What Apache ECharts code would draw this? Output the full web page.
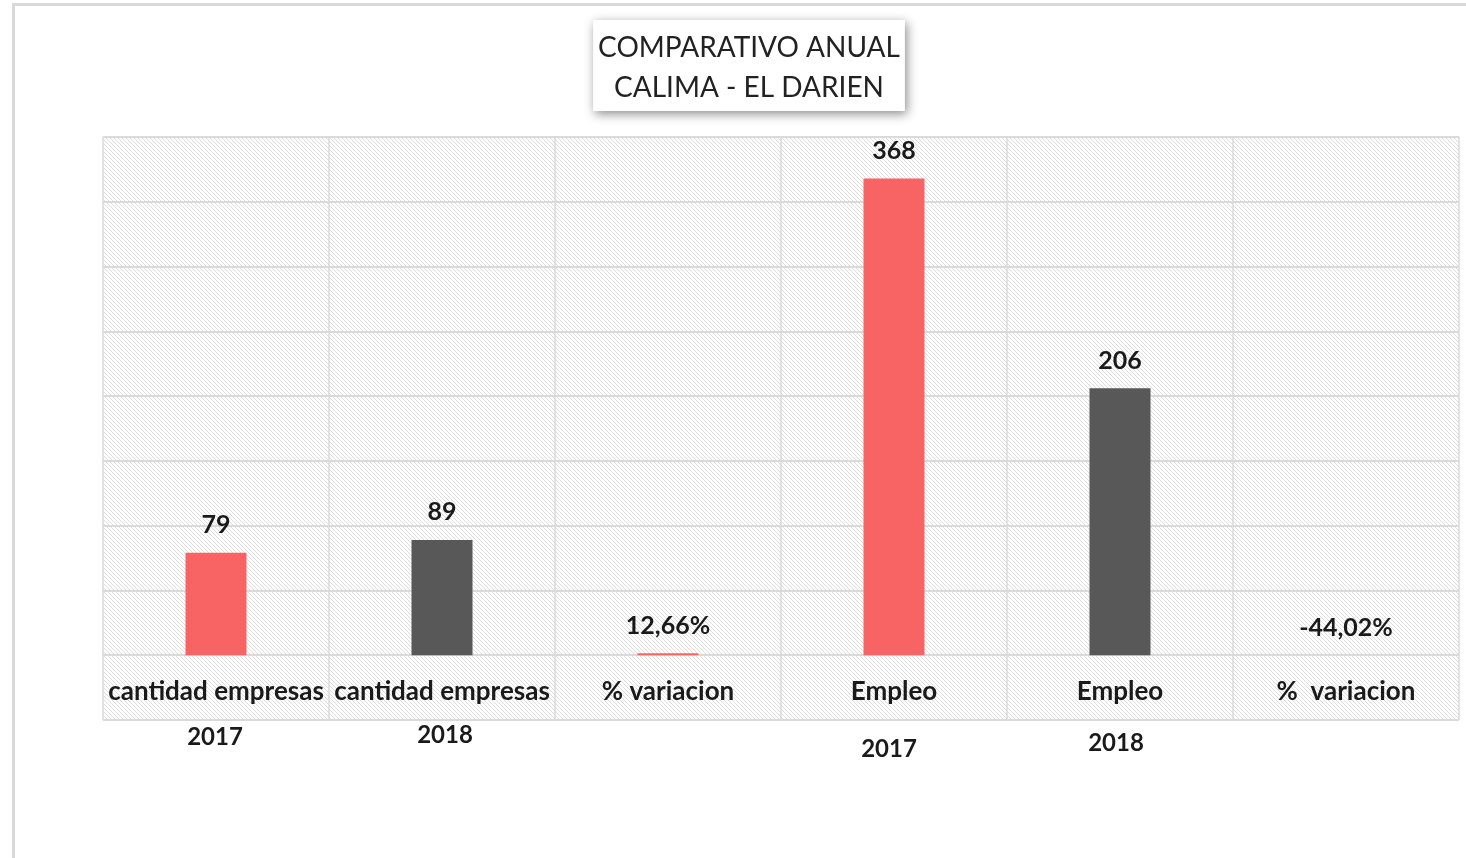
<!DOCTYPE html>
<html>
<head>
<meta charset="utf-8">
<script src="https://cdn.jsdelivr.net/npm/echarts@6/dist/echarts.min.js"></script>
<style>
  html, body { margin: 0; padding: 0; background: #ffffff; }
  .frame {
    position: absolute;
    left: 12px;
    top: 3px;
    width: 1460px;
    height: 860px;
    border-left: 3px solid #d9d9d9;
    border-top: 3px solid #d9d9d9;
  }
  #chart { position: absolute; left: 0; top: 0; width: 1466px; height: 858px; }
</style>
</head>
<body>
<div class="frame"></div>
<div id="chart"></div>
<script>
// datos del grafico
var categorias = ['cantidad empresas', 'cantidad empresas', '% variacion', 'Empleo', 'Empleo', '%  variacion'];
var anios = ['2017', '2018', '', '2017', '2018', ''];
var valores = [79, 89, 0.1266, 368, 206, -0.4402];
var etiquetas = ['79', '89', '12,66%', '368', '206', '-44,02%'];
var tipoColor = ['rojo', 'gris', 'rojo', 'rojo', 'gris', 'ninguno'];

// fondo rayado del area de trazado
var c = document.createElement('canvas');
c.width = 4;
c.height = 4;
var ctx = c.getContext('2d');
ctx.fillStyle = '#ffffff';
ctx.fillRect(0, 0, 4, 4);
ctx.fillStyle = '#dddddd';
for (var i = 0; i < 4; i++) ctx.fillRect(i, i, 1, 1);
var rayado = { image: c, repeat: 'repeat' };

var colores = { rojo: '#f86464', gris: '#585858', ninguno: 'rgba(0,0,0,0)' };

// desplazamiento de los textos de año (cuadros de texto sueltos en el original)
var anioPadding = [[3, 2, 0, 0], [1, 0, 0, 6], [0, 0, 0, 0], [15, 10, 0, 0], [9, 8, 0, 0], [0, 0, 0, 0]];

var fuente = 'Lato, "Open Sans", sans-serif';
var richAnios = {};
anioPadding.forEach(function (p, i) {
  richAnios['a' + i] = { padding: p, fontSize: 24, fontWeight: 'bold', color: '#1a1a1a', fontFamily: fuente };
});

var chart = echarts.init(document.getElementById('chart'));
chart.setOption({
  animation: false,
  title: {
    text: 'COMPARATIVO ANUAL\nCALIMA - EL DARIEN',
    left: 744,
    top: 20,
    textAlign: 'center',
    padding: [8, 5, 3, 5],
    backgroundColor: '#ffffff',
    shadowBlur: 10,
    shadowColor: 'rgba(0,0,0,0.45)',
    shadowOffsetX: 2,
    shadowOffsetY: 3,
    textStyle: {
      fontFamily: fuente,
      fontWeight: 'normal',
      fontSize: 28,
      lineHeight: 40,
      color: '#222222'
    }
  },
  grid: {
    left: 103,
    right: 7,
    top: 137,
    bottom: 138,
    show: true,
    backgroundColor: rayado,
    borderWidth: 0
  },
  xAxis: [
    {
      type: 'category',
      data: categorias,
      position: 'bottom',
      axisLine: { show: false, onZero: false },
      axisTick: { show: false },
      splitLine: { show: true, lineStyle: { color: '#dadada', width: 1.5 } },
      axisLabel: {
        interval: 0,
        margin: -41,
        fontFamily: fuente,
        fontSize: 26,
        fontWeight: 'bold',
        color: '#1a1a1a'
      }
    },
    {
      type: 'category',
      data: anios,
      position: 'bottom',
      axisLine: { show: false, onZero: false },
      axisTick: { show: false },
      splitLine: { show: false },
      axisLabel: {
        interval: 0,
        margin: 2,
        formatter: function (v, i) { return v ? '{a' + i + '|' + v + '}' : ''; },
        rich: richAnios
      }
    }
  ],
  yAxis: {
    type: 'value',
    min: -50,
    max: 400,
    interval: 50,
    axisLine: { show: false },
    axisTick: { show: false },
    axisLabel: { show: false },
    splitLine: { show: true, lineStyle: { color: '#dadada', width: 2 } }
  },
  series: [
    {
      type: 'bar',
      xAxisIndex: 0,
      barWidth: 61,
      barMinHeight: 2,
      data: valores.map(function (v, i) {
        return { value: v, itemStyle: { color: colores[tipoColor[i]] } };
      }),
      label: {
        show: true,
        position: 'top',
        distance: 15,
        formatter: function (p) { return etiquetas[p.dataIndex]; },
        fontFamily: fuente,
        fontSize: 25,
        fontWeight: 'bold',
        color: '#1a1a1a'
      }
    }
  ]
});
</script>
</body>
</html>
